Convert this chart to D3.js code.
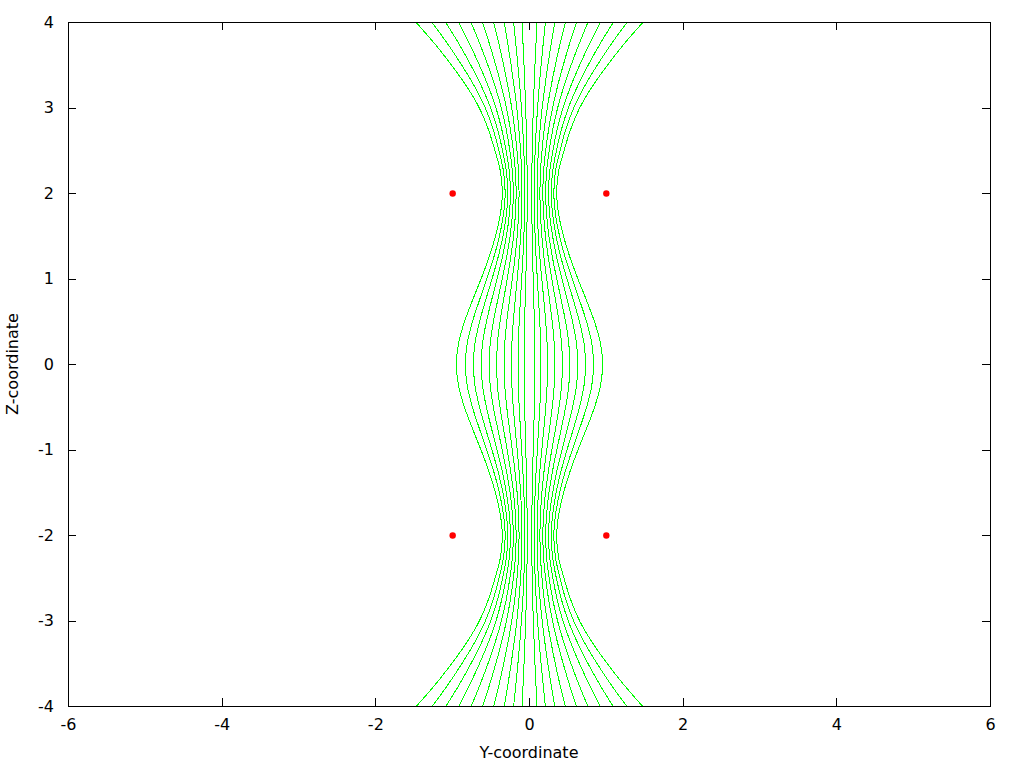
<!DOCTYPE html>
<html><head><meta charset="utf-8">
<script src="https://cdn.jsdelivr.net/npm/d3@7"></script>
<style>
body{margin:0;background:#fff}
svg{display:block}
text{font-family:"DejaVu Sans",sans-serif;fill:#000}
</style>
</head><body>
<svg id="chart" width="1024" height="768"></svg>
<script>
// Z sample positions (vertical axis) of the field-line readings
const zLevels = [-4,-3.75,-3.5,-3.25,-3,-2.75,-2.5,-2.25,-2,-1.75,-1.5,-1.25,-1,-0.75,-0.5,-0.25,0,
                 0.25,0.5,0.75,1,1.25,1.5,1.75,2,2.25,2.5,2.75,3,3.25,3.5,3.75,4];
// Distance of each field line from Y=0 at the z levels above (innermost to outermost)
const line1  = [0.098,0.084,0.071,0.060,0.050,0.041,0.035,0.031,0.030,0.031,0.035,0.041,0.048,0.056,0.063,0.069,0.071,0.069,0.063,0.056,0.048,0.041,0.035,0.031,0.030,0.031,0.035,0.041,0.050,0.060,0.071,0.084,0.098];
const line2  = [0.207,0.178,0.151,0.126,0.105,0.087,0.074,0.065,0.062,0.065,0.073,0.086,0.102,0.118,0.134,0.145,0.149,0.145,0.134,0.118,0.102,0.086,0.073,0.065,0.062,0.065,0.074,0.087,0.105,0.126,0.151,0.178,0.207];
const line3  = [0.329,0.282,0.239,0.200,0.165,0.138,0.116,0.103,0.098,0.102,0.116,0.135,0.160,0.187,0.211,0.229,0.236,0.229,0.211,0.187,0.160,0.135,0.116,0.102,0.098,0.103,0.116,0.138,0.165,0.200,0.239,0.282,0.329];
const line4  = [0.466,0.398,0.336,0.280,0.231,0.192,0.163,0.143,0.136,0.143,0.161,0.189,0.224,0.261,0.296,0.321,0.330,0.321,0.296,0.261,0.224,0.189,0.161,0.143,0.136,0.143,0.163,0.192,0.231,0.280,0.336,0.398,0.466];
const line5  = [0.612,0.521,0.439,0.364,0.300,0.249,0.210,0.183,0.174,0.184,0.208,0.245,0.290,0.339,0.384,0.417,0.428,0.417,0.384,0.339,0.290,0.245,0.208,0.184,0.174,0.183,0.210,0.249,0.300,0.364,0.439,0.521,0.612];
const line6  = [0.760,0.646,0.541,0.447,0.366,0.303,0.256,0.222,0.211,0.223,0.253,0.299,0.355,0.414,0.470,0.511,0.525,0.511,0.470,0.414,0.355,0.299,0.253,0.223,0.211,0.222,0.256,0.303,0.366,0.447,0.541,0.646,0.760];
const line7  = [0.923,0.781,0.652,0.535,0.436,0.361,0.304,0.262,0.248,0.263,0.301,0.355,0.422,0.494,0.561,0.611,0.628,0.611,0.561,0.494,0.422,0.355,0.301,0.263,0.248,0.262,0.304,0.361,0.436,0.535,0.652,0.781,0.923];
const line8  = [1.090,0.918,0.763,0.623,0.505,0.416,0.350,0.300,0.283,0.302,0.346,0.410,0.488,0.572,0.650,0.709,0.729,0.709,0.650,0.572,0.488,0.410,0.346,0.302,0.283,0.300,0.350,0.416,0.505,0.623,0.763,0.918,1.090];
const line9  = [1.269,1.065,0.881,0.714,0.575,0.473,0.397,0.337,0.317,0.340,0.392,0.466,0.556,0.652,0.743,0.810,0.833,0.810,0.743,0.652,0.556,0.466,0.392,0.340,0.317,0.337,0.397,0.473,0.575,0.714,0.881,1.065,1.269];
const line10 = [1.475,1.232,1.014,0.816,0.653,0.536,0.449,0.377,0.354,0.381,0.443,0.528,0.631,0.742,0.846,0.924,0.950,0.924,0.846,0.742,0.631,0.528,0.443,0.381,0.354,0.377,0.449,0.536,0.653,0.816,1.014,1.232,1.475];
const fieldLines = [line1,line2,line3,line4,line5,line6,line7,line8,line9,line10];
const sides = [-1, 1];   // lines appear on both sides of Y=0

// Coil crossing points (red)
const coilY = [-1, 1, -1, 1];
const coilZ = [2, 2, -2, -2];

const xTicks = [-6,-4,-2,0,2,4,6];
const yTicks = [-4,-3,-2,-1,0,1,2,3,4];
const xTitle = "Y-coordinate";
const yTitle = "Z-coordinate";

const L = 68, R = 990, T = 22, B = 706;
const svg = d3.select("#chart");
const x = d3.scaleLinear().domain([-6, 6]).range([L, R]);
const y = d3.scaleLinear().domain([-4, 4]).range([B, T]);

svg.append("defs").append("clipPath").attr("id","clip")
  .append("rect").attr("x",L).attr("y",T).attr("width",R-L+1).attr("height",B-T+1);

const gLines = svg.append("g").attr("clip-path","url(#clip)");
const lineGen = d3.line()
  .x(d => x(d[0]) + 0.5)
  .y(d => y(d[1]) + 0.5)
  .curve(d3.curveCatmullRom.alpha(0.5));

sides.forEach(s => {
  fieldLines.forEach(r => {
    const pts = zLevels.map((z, i) => [s * r[i], z]);
    gLines.append("path")
      .attr("d", lineGen(pts))
      .attr("fill","none")
      .attr("stroke","#00ff00")
      .attr("stroke-width",1)
      .attr("shape-rendering","crispEdges");
  });
});

// axes with inward ticks on all sides
const tk = 8;
const fmt = d => String(d);
const gx = svg.append("g").attr("transform",`translate(0,${B})`)
  .call(d3.axisBottom(x).tickValues(xTicks).tickSizeInner(-tk).tickSizeOuter(0).tickPadding(13).tickFormat(fmt));
const gxt = svg.append("g").attr("transform",`translate(0,${T})`)
  .call(d3.axisTop(x).tickValues(xTicks.slice(1,-1)).tickSizeInner(-tk).tickSizeOuter(0).tickFormat(""));
const gy = svg.append("g").attr("transform",`translate(${L},0)`)
  .call(d3.axisLeft(y).tickValues(yTicks).tickSizeInner(-tk).tickSizeOuter(0).tickPadding(14).tickFormat(fmt));
const gyr = svg.append("g").attr("transform",`translate(${R},0)`)
  .call(d3.axisRight(y).tickValues(yTicks.slice(1,-1)).tickSizeInner(-tk).tickSizeOuter(0).tickFormat(""));
[gx,gxt,gy,gyr].forEach(g => {
  g.select(".domain").remove();
  g.selectAll("line").attr("stroke","#000").attr("shape-rendering","crispEdges");
  g.selectAll("text").attr("font-size",16).attr("font-family","DejaVu Sans, sans-serif").attr("fill","#000");
});
gx.selectAll(".tick").filter(d => d === -6 || d === 6).select("line").remove();
gy.selectAll(".tick").filter(d => d === -4 || d === 4).select("line").remove();

// frame
svg.append("rect").attr("x",L+0.5).attr("y",T+0.5).attr("width",R-L).attr("height",B-T)
  .attr("fill","none").attr("stroke","#000").attr("stroke-width",1).attr("shape-rendering","crispEdges");

// coil points
svg.append("g").selectAll("circle").data(coilY.map((v,i)=>[v, coilZ[i]])).join("circle")
  .attr("cx", d => x(d[0]) + 0.5).attr("cy", d => y(d[1]) + 0.5).attr("r", 3.2)
  .attr("fill","#ff0000");

// titles
svg.append("text").attr("x", (L+R)/2).attr("y", 758).attr("text-anchor","middle")
  .attr("font-size",16).text(xTitle);
svg.append("text").attr("transform",`translate(18,${(T+B)/2}) rotate(-90)`).attr("text-anchor","middle")
  .attr("font-size",16).text(yTitle);
</script>
</body></html>
